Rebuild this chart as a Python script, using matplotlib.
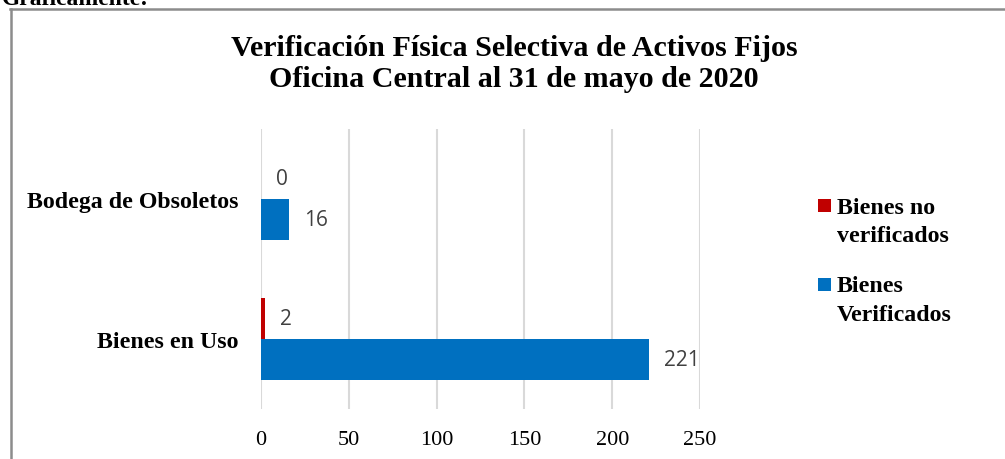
import matplotlib
matplotlib.use("Agg")
import matplotlib.pyplot as plt
from matplotlib.lines import Line2D
from matplotlib.patches import Rectangle
import numpy as np

categories = ["Bienes en Uso", "Bodega de Obsoletos"]
no_verificados = [2, 0]
verificados = [221, 16]
series_labels = [["Bienes no", "verificados"], ["Bienes", "Verificados"]]
x_ticks = [0, 50, 100, 150, 200, 250]
title = "Verificación Física Selectiva de Activos Fijos\nOficina Central al 31 de mayo de 2020"

RED = "#C00000"
BLUE = "#0070C0"
SERIF = ["Liberation Serif", "DejaVu Serif"]
SANS = ["Open Sans", "DejaVu Sans"]

W, H = 1005, 460
fig = plt.figure(figsize=(W / 100, H / 100), dpi=100)
fig.patch.set_facecolor("white")

ax = fig.add_axes([261 / W, 1 - 410 / H, (700 - 261) / W, (410 - 130) / H])
y = np.arange(len(categories))
bh = 0.29
b1 = ax.barh(y + bh / 2, no_verificados, height=bh, color=RED, zorder=3)
b2 = ax.barh(y - bh / 2, verificados, height=bh, color=BLUE, zorder=3)

for bars in (b1, b2):
    ax.bar_label(bars, padding=11, fontsize=15, color="#404040", family=SANS)

ax.set_xlim(0, 250)
ax.set_ylim(-0.5, 1.5)
ax.set_xticks(x_ticks)
ax.set_xticklabels([str(t) for t in x_ticks], family=SERIF, fontsize=16)
ax.set_yticks(y)
ax.set_yticklabels(categories, family=SERIF, fontsize=17.2, fontweight="bold")
ax.tick_params(axis="both", length=0)
ax.tick_params(axis="x", pad=15)
ax.tick_params(axis="y", pad=16)
ax.grid(axis="x", color="#D9D9D9", linewidth=1.5, zorder=0)
for s in ax.spines.values():
    s.set_visible(False)

fig.text(514 / W, 1 - 64 / H, title, ha="center", va="center", family=SERIF,
         fontsize=21.6, fontweight="bold", linespacing=1.22)

# legend (squares aligned with first line of each label, as in the original)
colors = [RED, BLUE]
sq_top = [200, 279]
base_lines = [[214, 242.5], [292.5, 321]]
for col, top, labs, bases in zip(colors, sq_top, series_labels, base_lines):
    fig.add_artist(Rectangle((818 / W, 1 - (top + 13) / H), 13 / W, 13 / H,
                             transform=fig.transFigure, facecolor=col, edgecolor="none"))
    for lab, b in zip(labs, bases):
        fig.text(837 / W, 1 - b / H, lab, ha="left", va="baseline", family=SERIF,
                 fontsize=17.2, fontweight="bold")

# clipped heading above the chart box
fig.text(2 / W, 1 - 5 / H, "Gráficamente:", ha="left", va="baseline",
         family=SERIF, fontsize=17, fontweight="bold")

# chart border (top and left visible)
fig.add_artist(Line2D([10 / W, 1.01], [1 - 9.5 / H, 1 - 9.5 / H], color="#8C8C8C", linewidth=1.8))
fig.add_artist(Line2D([10.5 / W, 10.5 / W], [1 - 9.5 / H, -0.01], color="#8C8C8C", linewidth=1.8))

fig.savefig("out.png", dpi=100)
